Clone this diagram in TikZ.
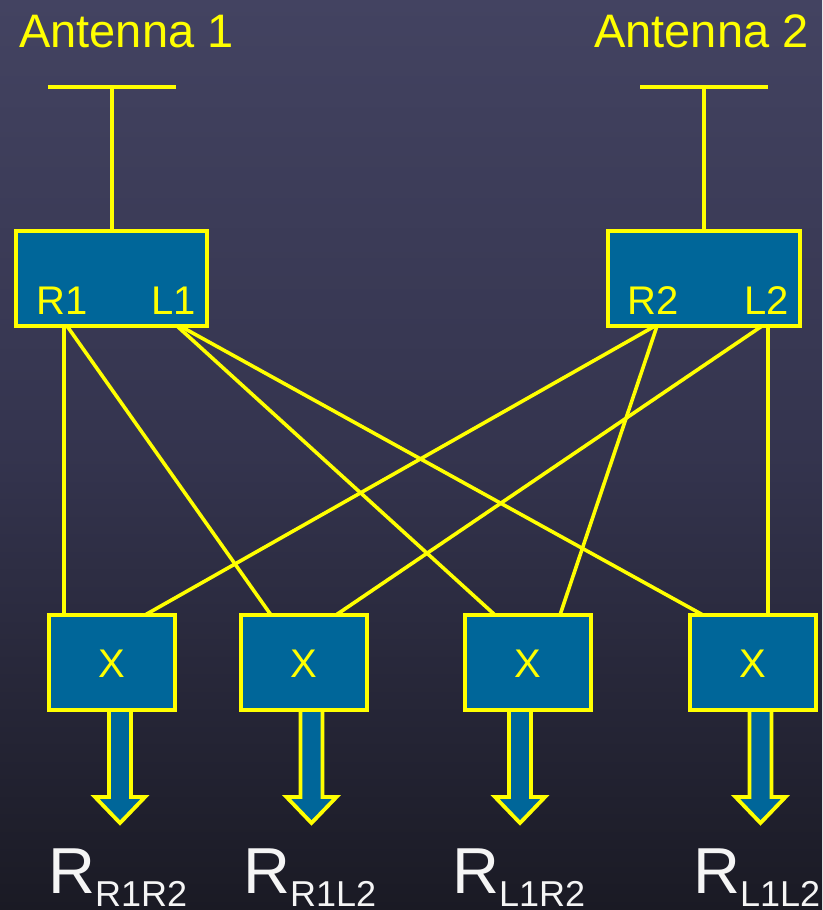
\documentclass[tikz,border=0pt]{standalone}
\usepackage{fontspec}
\setmainfont{Liberation Sans}
\usetikzlibrary{calc}
\pgfdeclarelayer{backdrop}
\pgfdeclarelayer{background}
\pgfsetlayers{backdrop,background,main}
\definecolor{bgtop}{RGB}{67,67,97}
\definecolor{bgmid}{RGB}{52,52,78}
\definecolor{bgbot}{RGB}{26,26,36}
\definecolor{boxblue}{RGB}{0,102,153}
\definecolor{ylw}{RGB}{255,255,0}
\definecolor{lbl}{RGB}{245,245,245}
\tikzset{
  blk/.style={draw=ylw, fill=boxblue, line width=4pt, inner sep=0pt, rectangle},
  wire/.style={draw=ylw, line width=3.6pt},
  antwire/.style={draw=ylw, line width=4pt},
  fatarrow/.style={draw=ylw, fill=boxblue, line width=3.8pt, line join=miter},
  anttxt/.style={text=ylw, inner sep=0pt, font=\fontsize{47}{50}\selectfont},
  porttxt/.style={text=ylw, inner sep=0pt, font=\fontsize{40}{44}\selectfont},
  restxt/.style={text=lbl, inner sep=0pt}
}
\newcommand{\reslabel}[1]{{\fontsize{65}{70}\selectfont R}\raisebox{-13pt}{\fontsize{36}{40}\selectfont #1}}
\begin{document}
\begin{tikzpicture}[x=1pt,y=-1pt]
\useasboundingbox (0,0) rectangle (822,910);
\begin{pgfonlayer}{backdrop}
\shade[top color=bgtop, bottom color=bgbot, middle color=bgmid] (0,0) rectangle (822,910);
\end{pgfonlayer}

% antenna labels
\node[anttxt, anchor=base west] (a1t) at (19,47) {Antenna 1};
\node[anttxt, anchor=base west] (a2t) at (594,47) {Antenna 2};

% antenna T bars
\coordinate (a1l) at (48,87);
\coordinate (a1r) at (176,87);
\coordinate (a1m) at (112,87);
\coordinate (a2l) at (640,87);
\coordinate (a2r) at (768,87);
\coordinate (a2m) at (704,87);

% receiver boxes
\node[blk, minimum width=191pt, minimum height=95pt] (b1) at (111.5,278.5) {};
\node[blk, minimum width=192pt, minimum height=95pt] (b2) at (704,278.5) {};
\node[porttxt, anchor=base west] (r1t) at (36,314) {R1};
\node[porttxt, anchor=base west] (l1t) at (151,314) {L1};
\node[porttxt, anchor=base west] (r2t) at (627,314) {R2};
\node[porttxt, anchor=base west] (l2t) at (744,314) {L2};

% multiplier boxes
\foreach \n/\cx in {1/112, 2/303.5, 3/528, 4/752.5}{
  \node[blk, minimum width=126pt, minimum height=95pt] (x\n) at (\cx,662.5) {};
  \node[porttxt, text=ylw] (xt\n) at (\cx,664) {X};
}

% ports
\coordinate (pr1a) at (64,326);
\coordinate (pr1b) at (67,326);
\coordinate (pl1a) at (177,326);
\coordinate (pl1b) at (180,326);
\coordinate (pr2a) at (655,326);
\coordinate (pr2b) at (657,326);
\coordinate (pl2a) at (768,326);
\coordinate (pl2b) at (762,326);
% inputs on multipliers
\coordinate (i1a) at (64,615);
\coordinate (i1b) at (145,615);
\coordinate (i2a) at (271,615);
\coordinate (i2b) at (336,615);
\coordinate (i3a) at (495,615);
\coordinate (i3b) at (560,615);
\coordinate (i4a) at (703,615);
\coordinate (i4b) at (768,615);

\begin{pgfonlayer}{background}
  \draw[antwire] (a1l) -- (a1r);
  \draw[antwire] (a1m) -- (b1.north -| a1m);
  \draw[antwire] (a2l) -- (a2r);
  \draw[antwire] (a2m) -- (b2.north -| a2m);

  \draw[wire] (pr1a) -- (i1a);
  \draw[wire] (pr1b) -- (i2a);
  \draw[wire] (pl1a) -- (i3a);
  \draw[wire] (pl1b) -- (i4a);
  \draw[wire] (pr2a) -- (i1b);
  \draw[wire] (pr2b) -- (i3b);
  \draw[wire] (pl2a) -- (i4b);
  \draw[wire] (pl2b) -- (i2b);

  \foreach \n/\dx in {1/8, 2/8, 3/-8, 4/8}{
    \draw[fatarrow] ([xshift=\dx pt]x\n.south) ++(-11,0) -- ++(0,85) -- ++(-14,0)
      -- ++(25,26) -- ++(25,-26) -- ++(-14,0) -- ++(0,-85);
  }
\end{pgfonlayer}

% result labels
\node[restxt, anchor=base west] (res1) at (48,893) {\reslabel{R1R2}};
\node[restxt, anchor=base west] (res2) at (243,893) {\reslabel{R1L2}};
\node[restxt, anchor=base west] (res3) at (452,893) {\reslabel{L1R2}};
\node[restxt, anchor=base west] (res4) at (693,893) {\reslabel{L1L2}};
\end{tikzpicture}
\end{document}
